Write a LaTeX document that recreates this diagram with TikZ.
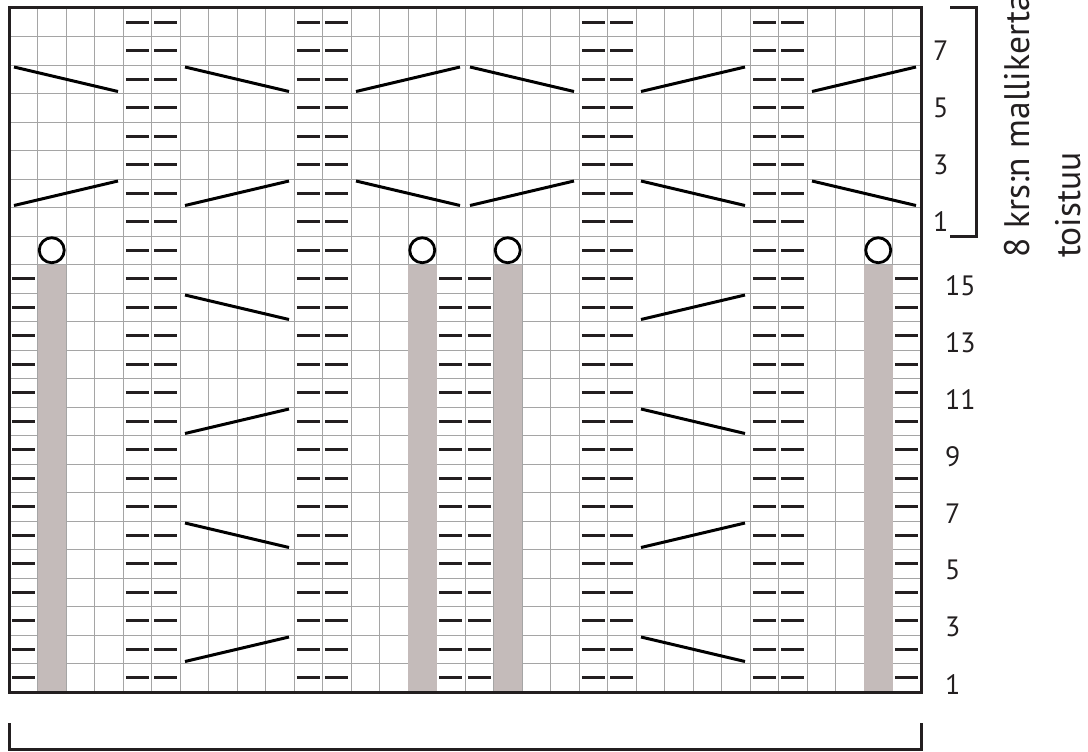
\documentclass[tikz,border=0pt]{standalone}
\usepackage{fontspec}
\setmainfont{PT Sans}
\definecolor{gridc}{RGB}{165,165,165}
\definecolor{barc}{RGB}{196,187,186}
\definecolor{inkc}{RGB}{35,31,32}
\newcommand\cs{28.5}
\newcommand\cabdown[2]{\draw[cable] ({9+#1*\cs+5},{8+#2*\cs+2}) -- ({9+(#1+4)*\cs-5},{8+(#2+1)*\cs-2});}
\newcommand\cabup[2]{\draw[cable] ({9+#1*\cs+5},{8+(#2+1)*\cs-2}) -- ({9+(#1+4)*\cs-5},{8+#2*\cs+2});}
\begin{document}
\begin{tikzpicture}[x=1pt,y=-1pt,
  gridline/.style={draw=gridc,line width=0.9pt},
  purl/.style={draw=inkc,line width=3.4pt},
  cable/.style={draw=black,line width=3pt},
  yo/.style={draw=black,line width=2.8pt,fill=white},
  frame/.style={draw=inkc,line width=3pt},
  rowlabel/.style={font=\fontsize{28}{30}\selectfont,text=inkc,inner sep=0pt,anchor=west},
  reptext/.style={font=\fontsize{35.5}{40}\selectfont,text=inkc,inner sep=0pt,rotate=90,anchor=base west}
]
\useasboundingbox (0,0) rectangle (1088,752);
% grid
\foreach \i in {1,...,31} \draw[gridline] ({9+\i*\cs},8) -- ({9+\i*\cs},692);
\foreach \j in {1,...,23} \draw[gridline] (9,{8+\j*\cs}) -- (921,{8+\j*\cs});
% grey bars
\foreach \c in {1,14,17,30} \fill[barc] ({9+\c*\cs},{8+9*\cs}) rectangle ({9+(\c+1)*\cs},692);
% purl stitches
\foreach \c in {4,5,10,11,20,21,26,27} \foreach \r in {0,...,23}
  \draw[purl] ({9+(\c+0.5)*\cs-11.5},{8+(\r+0.5)*\cs}) -- ++(23,0);
\foreach \c in {0,15,16,31} \foreach \r in {9,...,23}
  \draw[purl] ({9+(\c+0.5)*\cs-11.5},{8+(\r+0.5)*\cs}) -- ++(23,0);
% yarn overs
\foreach \c in {1,14,17,30} \draw[yo] ({9+(\c+0.5)*\cs},{8+8.5*\cs}) circle (12.5pt);
% cables, upper part
\cabdown{0}{2} \cabdown{6}{2} \cabup{12}{2} \cabdown{16}{2} \cabup{22}{2} \cabup{28}{2}
\cabup{0}{6} \cabup{6}{6} \cabdown{12}{6} \cabup{16}{6} \cabdown{22}{6} \cabdown{28}{6}
% cables, lower part
\cabdown{6}{10} \cabup{22}{10}
\cabup{6}{14} \cabdown{22}{14}
\cabdown{6}{18} \cabup{22}{18}
\cabup{6}{22} \cabdown{22}{22}
% frame
\draw[frame] (9,8) rectangle (921,692);
% row labels
\foreach \k in {1,3,5,7} \node[rowlabel] (u\k) at (933,{8+(8-\k+0.5)*\cs}) {\k};
\foreach \k in {1,3,...,15} \node[rowlabel] (l\k) at (945,{8+(24-\k+0.5)*\cs+6.5}) {\k};
% brackets
\draw[frame] (950,7.5) -- (976.5,7.5) -- (976.5,236) -- (950,236);
\draw[frame] (9,723) -- (9,749.5) -- (921.5,749.5) -- (921.5,723);
% repeat text
\node[reptext] (rep1) at (1029,258) {8 krs:n mallikerta};
\node[reptext] (rep2) at (1080,258) {toistuu};
\end{tikzpicture}
\end{document}
